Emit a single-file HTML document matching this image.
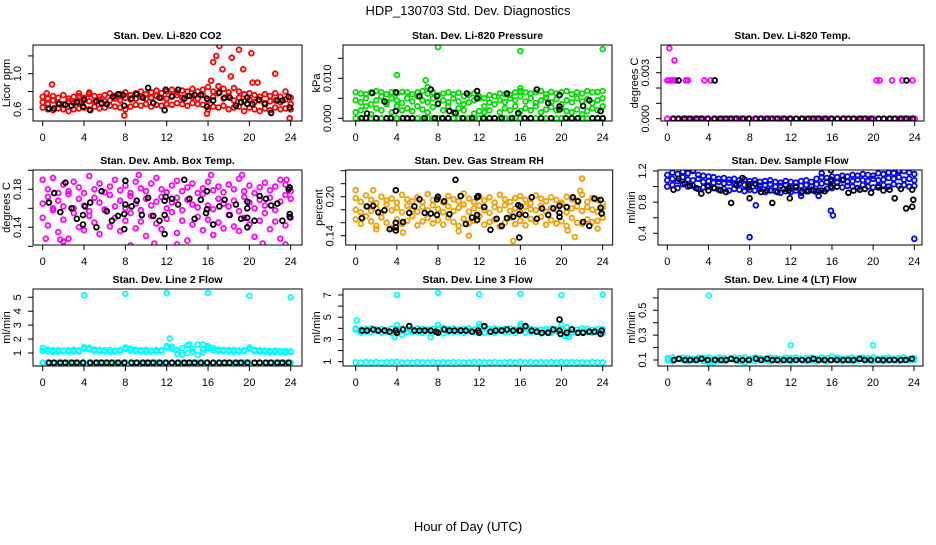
<!DOCTYPE html>
<html><head><meta charset="utf-8"><style>
body{margin:0;background:#fff;width:936px;height:540px;overflow:hidden}
svg text{font-family:"Liberation Sans",sans-serif}
</style></head><body>
<svg id="chart" width="936" height="540" viewBox="0 0 936 540" xmlns="http://www.w3.org/2000/svg">
<text x="468" y="15" font-size="13" text-anchor="middle">HDP_130703  Std. Dev. Diagnostics</text>
<text x="468" y="531" font-size="13" text-anchor="middle">Hour of Day (UTC)</text>
</svg>
<script>
const HOURS=[0,0.5,1,1.5,2,2.5,3,3.5,4,4.5,5,5.5,6,6.5,7,7.5,8,8.5,9,9.5,10,10.5,11,11.5,12,12.5,13,13.5,14,14.5,15,15.5,16,16.5,17,17.5,18,18.5,19,19.5,20,20.5,21,21.5,22,22.5,23,23.5,24];
const XTICKS=[0,4,8,12,16,20,24];
const BH=[0.6,1.1,1.7,2.2,2.8,3.3,3.9,4.6,5.2,5.7,6.2,6.7,7.3,7.9,8.6,9.1,9.7,10.2,10.7,11.3,11.9,12.5,13.1,13.7,14.2,14.7,15.3,15.9,16.5,17.1,17.6,18.1,18.7,19.2,19.8,20.5,21,21.6,22.1,22.7,23.2,23.8];

// Panel 1 CO2
const co2Lo=[0.62,0.60,0.59,0.61,0.60,0.58,0.60,0.61,0.62,0.60,0.63,0.61,0.62,0.64,0.63,0.62,0.60,0.63,0.65,0.64,0.66,0.63,0.65,0.64,0.66,0.65,0.67,0.66,0.64,0.67,0.66,0.65,0.60,0.63,0.62,0.64,0.60,0.62,0.63,0.58,0.62,0.60,0.58,0.61,0.59,0.62,0.60,0.61,0.60];
const co2Mid=[0.68,0.66,0.70,0.67,0.66,0.69,0.67,0.68,0.70,0.69,0.68,0.71,0.69,0.70,0.72,0.70,0.73,0.71,0.72,0.74,0.72,0.73,0.75,0.73,0.72,0.74,0.76,0.73,0.75,0.74,0.72,0.76,0.70,0.74,0.78,0.72,0.75,0.70,0.73,0.69,0.71,0.68,0.70,0.67,0.69,0.70,0.68,0.71,0.66];
const co2Hi=[0.74,0.72,0.75,0.73,0.76,0.72,0.74,0.75,0.73,0.77,0.75,0.74,0.76,0.78,0.75,0.77,0.79,0.76,0.78,0.80,0.77,0.79,0.81,0.78,0.80,0.82,0.79,0.81,0.80,0.83,0.80,0.82,0.85,0.80,0.86,0.83,0.79,0.84,0.80,0.77,0.78,0.76,0.74,0.77,0.75,0.78,0.74,0.80,0.73];
const co2OutH=[0.9,16.3,16.5,16.8,17.1,17.4,18.3,19,19.4,20.2,20.3,20.8,18.2,22.5,23.9,7.9,15.9,0.4,3.5,4.5];
const co2OutV=[0.88,0.92,1.13,1.20,1.31,1.05,1.18,1.27,1.05,1.23,0.90,0.90,0.97,1.00,0.50,0.53,0.55,0.78,0.78,0.79];
const co2BlkH=[0.6,1.1,1.6,2.2,2.8,3.3,3.9,4,4.6,5.2,5.7,6.2,6.8,7.3,7.8,7.9,8.6,9.1,9.7,10.2,10.7,11.3,11.8,11.9,12.5,13.1,13.7,14.2,14.7,15.3,15.9,15.9,16.5,17.1,17.6,18.1,18.7,19.2,19.8,19.8,20.3,20.9,21.5,22.1,22.7,23.2,23.8,23.9];
const co2BlkV=[0.61,0.61,0.66,0.65,0.64,0.68,0.63,0.71,0.59,0.69,0.67,0.66,0.74,0.77,0.76,0.64,0.72,0.77,0.73,0.84,0.67,0.73,0.59,0.82,0.75,0.82,0.72,0.75,0.76,0.76,0.72,0.63,0.70,0.79,0.73,0.73,0.64,0.68,0.73,0.66,0.66,0.71,0.66,0.56,0.70,0.70,0.74,0.62];

// Panel 2 Pressure
const prG0=[0,0,0,0,0,0,0,0,0,0,0,0,0,0,0,0,0,0,0,0,0,0,0,0,0,0,0,0,0,0,0,0,0,0,0,0,0,0,0,0,0,0,0,0,0,0,0,0,0];
const prG1=[0.0015,0.002,0.003,0.001,0.0025,0.002,0.0035,0.0015,0.003,0.002,0.0025,0.0018,0.003,0.0022,0.0015,0.0028,0,0.002,0.003,0.0015,0.0025,0.002,0,0.0012,0.0018,0.0015,0.002,0,0.0015,0.0025,0.002,0.003,0.0018,0.0025,0.002,0.003,0.0015,0.0022,0.0028,0.002,0.0025,0.0018,0.0015,0.0022,0.001,0.0018,0.0025,0.002,0.003];
const prG2=[0.0045,0.004,0.005,0.0035,0.0045,0.0055,0.004,0.005,0.0045,0.0038,0.005,0.0042,0.0055,0.0045,0.004,0.005,0.0035,0.0045,0.004,0.005,0.0042,0.0035,0.004,0.0045,0.005,0.003,0.004,0.0035,0.0045,0.004,0.005,0.0045,0.0055,0.0042,0.005,0.0038,0.0045,0.0052,0.004,0.0048,0.0035,0.0045,0.004,0.005,0.0042,0.0048,0.0038,0.0045,0.005];
const prG3=[0.0065,0.0062,0.006,0.0065,0.0068,0.0065,0.006,0.0065,0.0062,0.0066,0.0065,0.006,0.0065,0.0068,0.0062,0.0065,0.0058,0.0062,0.0065,0.006,0.0064,0.0055,0.0058,0.0062,0.0055,0.005,0.0058,0.0055,0.0062,0.006,0.0058,0.0065,0.0068,0.0065,0.0062,0.0065,0.0068,0.006,0.0066,0.0062,0.0065,0.0068,0.006,0.0065,0.0062,0.0068,0.0065,0.0066,0.0068];
const prOutH=[4,6.8,8,16,24,7,16];
const prOutV=[0.0108,0.0095,0.0178,0.0168,0.0173,0.0078,0.0075];
const prBlkH=[0.6,1.1,1.6,2.8,3.9,3.9,6.2,7.3,7.9,8,9.1,9.7,10.8,11.8,11.8,14.7,15.8,17.6,18.7,19.8,19.8,19.8,22.1,22.7,23.8,1,2,3,3.4,4.6,5,5.5,6.7,7.7,8.4,9,10.4,11.3,12.4,13,13.5,14.2,15.2,16.4,17,18,19,20.4,21,21.6,23,23.5,24];
const prBlkV=[0,0.0012,0.0063,0.0042,0.0065,0.0018,0.0055,0.0072,0.0055,0.0037,0.0018,0.0013,0.0062,0.0068,0.005,0.0062,0.0013,0.0072,0.0038,0.0022,0.003,0.0058,0.0031,0.0045,0.0018,0,0,0,0,0,0,0,0,0,0,0,0,0,0,0,0,0,0,0,0,0,0,0,0,0,0,0,0];

// Panel 3 Li-820 Temp
const tpZero=[0,0,0,0,0,0,0,0,0,0,0,0,0,0,0,0,0,0,0,0,0,0,0,0,0,0,0,0,0,0,0,0,0,0,0,0,0,0,0,0,0,0,0,0,0,0,0,0,0];
const tpHiH=[0,0.2,0.4,0.6,0.8,1.8,2.0,3.6,4.2,4.6,20.3,20.6,21.8,22.8,23.8,0.2,0.7];
const tpHiV=[0.0025,0.0025,0.0025,0.0025,0.0025,0.0025,0.0025,0.0025,0.0025,0.0025,0.0025,0.0025,0.0025,0.0025,0.0025,0.0046,0.0038];
const tpBlkH=[0.6,1.1,1.7,2.2,2.8,3.3,3.9,4.6,5.2,5.7,6.2,6.7,7.3,7.9,8.6,9.1,9.7,10.2,10.7,11.3,11.9,12.5,13.1,13.7,14.2,14.7,15.3,15.9,16.5,17.1,17.6,18.1,18.7,19.2,19.8,20.5,21,21.6,22.1,22.7,23.2,23.8,1.1,4.6,23.2];
const tpBlkV=[0,0,0,0,0,0,0,0,0,0,0,0,0,0,0,0,0,0,0,0,0,0,0,0,0,0,0,0,0,0,0,0,0,0,0,0,0,0,0,0,0,0,0.0025,0.0025,0.0025];

// Panel 4 Amb Box Temp
const abA=[0.150,0.142,0.160,0.135,0.148,0.128,0.155,0.140,0.137,0.152,0.145,0.133,0.158,0.141,0.150,0.136,0.147,0.155,0.139,0.146,0.131,0.152,0.144,0.138,0.149,0.156,0.134,0.147,0.126,0.143,0.151,0.137,0.148,0.132,0.145,0.139,0.153,0.141,0.136,0.150,0.143,0.130,0.147,0.155,0.138,0.146,0.128,0.142,0.150];
const abB=[0.165,0.172,0.158,0.168,0.162,0.175,0.160,0.170,0.163,0.157,0.171,0.166,0.159,0.174,0.162,0.168,0.160,0.173,0.165,0.158,0.170,0.163,0.167,0.172,0.160,0.166,0.171,0.158,0.169,0.164,0.161,0.175,0.163,0.159,0.170,0.165,0.162,0.168,0.157,0.172,0.166,0.160,0.169,0.163,0.171,0.158,0.167,0.174,0.170];
const abC=[0.190,0.180,0.192,0.176,0.185,0.178,0.188,0.182,0.176,0.194,0.180,0.186,0.177,0.183,0.190,0.179,0.184,0.176,0.188,0.181,0.178,0.186,0.192,0.180,0.177,0.184,0.189,0.178,0.182,0.186,0.176,0.181,0.188,0.179,0.183,0.177,0.185,0.180,0.191,0.178,0.184,0.176,0.182,0.187,0.179,0.183,0.190,0.185,0.178];
const abOutH=[2,2.8,9.3,10.8,13,16.3,19.3,21.3,23.5,0.3,8.5,1.7,23.6];
const abOutV=[0.125,0.205,0.195,0.123,0.122,0.195,0.195,0.123,0.122,0.128,0.121,0.127,0.190];
const abBlkH=[0.6,1.1,1.7,2.2,2.8,3.3,3.9,3.9,4.1,4.6,5.2,5.7,6.2,6.7,7.3,7.9,7.9,8,8,8.6,9.1,9.6,10.2,10.7,11.3,11.8,11.8,11.9,11.8,12.5,13.1,13.7,14.2,14.7,15.3,15.9,15.9,15.8,16.5,17.1,17.6,18.1,18.7,19.2,19.8,19.8,19.8,19.8,20.5,21,21.6,22.1,22.7,23.2,23.8,23.9,23.9,23.9];
const abBlkV=[0.166,0.176,0.156,0.187,0.160,0.149,0.153,0.143,0.162,0.166,0.140,0.178,0.157,0.147,0.152,0.138,0.154,0.164,0.189,0.162,0.168,0.153,0.171,0.152,0.147,0.133,0.168,0.172,0.153,0.170,0.164,0.190,0.170,0.149,0.169,0.159,0.178,0.155,0.143,0.162,0.169,0.153,0.164,0.149,0.150,0.160,0.167,0.140,0.147,0.173,0.170,0.163,0.165,0.147,0.180,0.154,0.151,0.182];

// Panel 5 Gas Stream RH
const rhA=[0.165,0.158,0.170,0.162,0.155,0.168,0.160,0.152,0.165,0.158,0.163,0.170,0.156,0.162,0.167,0.159,0.164,0.157,0.168,0.161,0.155,0.166,0.159,0.163,0.170,0.157,0.161,0.165,0.154,0.160,0.168,0.158,0.163,0.156,0.166,0.161,0.169,0.157,0.164,0.159,0.162,0.155,0.167,0.160,0.158,0.165,0.161,0.163,0.168];
const rhB=[0.180,0.176,0.185,0.178,0.182,0.175,0.188,0.179,0.183,0.176,0.186,0.180,0.177,0.184,0.179,0.187,0.181,0.176,0.185,0.178,0.183,0.188,0.177,0.182,0.186,0.179,0.175,0.184,0.180,0.187,0.178,0.182,0.176,0.185,0.181,0.179,0.186,0.177,0.183,0.180,0.188,0.176,0.182,0.185,0.178,0.184,0.180,0.177,0.183];
const rhC=[0.198,0.192,0.202,0.195,0.190,0.200,0.194,0.197,0.191,0.203,0.196,0.193,0.199,0.192,0.204,0.195,0.198,0.191,0.201,0.196,0.193,0.205,0.197,0.192,0.200,0.194,0.199,0.191,0.203,0.196,0.192,0.198,0.201,0.195,0.190,0.202,0.197,0.193,0.199,0.195,0.191,0.200,0.196,0.194,0.203,0.192,0.198,0.195,0.190];
const rhOutH=[0,1.7,4.6,15.3,20.6,21.3,21.8,22,23.5,10,11,2];
const rhOutV=[0.21,0.21,0.145,0.132,0.148,0.138,0.209,0.228,0.151,0.147,0.14,0.15];
const rhBlkH=[0.6,1.1,1.7,2.2,2.8,3.3,3.9,3.9,3.9,3.9,4.6,5.2,5.7,6.2,6.7,7.3,7.9,7.9,8,8.6,9.1,9.7,10.2,10.7,11.3,11.8,11.8,11.8,11.9,12.5,13.1,13.7,14.2,14.7,15.3,15.9,15.9,15.8,16,16.5,17.1,17.6,18.1,18.7,19.2,19.8,19.8,19.8,20.5,21.1,21.6,22.1,22.7,23.2,23.8,23.8,23.9];
const rhBlkV=[0.167,0.185,0.186,0.176,0.179,0.150,0.153,0.148,0.160,0.21,0.161,0.175,0.185,0.196,0.175,0.174,0.172,0.196,0.200,0.193,0.173,0.226,0.201,0.158,0.168,0.164,0.172,0.199,0.201,0.184,0.149,0.166,0.155,0.167,0.169,0.137,0.173,0.187,0.185,0.172,0.199,0.166,0.182,0.172,0.182,0.175,0.169,0.186,0.184,0.199,0.193,0.161,0.155,0.197,0.195,0.183,0.174];

// Panel 6 Sample Flow
const sfA=[1.00,1.02,0.98,1.03,1.00,1.01,0.97,0.99,1.00,0.98,0.96,0.97,0.95,0.97,0.96,0.94,0.96,0.95,0.97,0.93,0.95,0.94,0.92,0.94,0.93,0.95,0.92,0.94,0.96,0.93,0.95,0.97,0.98,1.00,0.99,1.01,1.00,0.98,1.02,1.00,0.99,1.01,1.02,1.00,1.03,1.01,1.02,1.00,1.01];
const sfB=[1.08,1.10,1.07,1.12,1.09,1.08,1.10,1.06,1.07,1.05,1.06,1.04,1.05,1.03,1.04,1.02,1.03,1.04,1.01,1.02,1.03,1.00,1.01,1.02,0.99,1.00,1.01,1.02,1.00,1.03,1.04,1.06,1.07,1.05,1.08,1.06,1.07,1.09,1.08,1.07,1.10,1.08,1.09,1.11,1.10,1.12,1.09,1.10,1.08];
const sfC=[1.15,1.18,1.16,1.19,1.17,1.20,1.15,1.14,1.13,1.12,1.10,1.11,1.09,1.10,1.08,1.09,1.07,1.08,1.06,1.07,1.08,1.06,1.05,1.07,1.06,1.05,1.07,1.08,1.06,1.10,1.12,1.11,1.13,1.12,1.14,1.13,1.15,1.14,1.16,1.15,1.14,1.17,1.16,1.18,1.17,1.19,1.20,1.18,1.16];
const sfOutH=[8,24,15.9,16.1,8.6,1.5,2.5,15,22.5,13,14.7];
const sfOutV=[0.35,0.33,0.69,0.63,0.76,1.19,1.21,1.17,1.21,0.88,0.88];
const sfBlkH=[0.6,1.1,1.7,2.2,2.8,3.3,3.9,4,4.6,5.2,5.7,6.2,6.7,7.3,7.9,7.9,8,8.6,9.1,9.7,10.2,10.7,11.3,11.8,11.8,11.9,12.5,13.1,13.7,14.2,14.7,15.3,15.9,15.9,15.9,16.5,17.1,17.6,18.1,18.7,19.2,19.8,20.5,21,21.6,22.1,22.7,23.2,23.8,23.8,23.9];
const sfBlkV=[0.96,1.10,1.04,1.01,0.98,0.91,1.01,0.95,0.98,0.95,0.93,0.79,1.02,1.11,0.99,1.02,0.85,1.03,0.93,0.95,0.79,0.93,0.97,0.98,0.95,0.85,0.99,0.94,0.94,0.95,0.95,0.94,1.00,1.09,1.21,1.00,1.09,0.92,0.95,0.96,0.97,0.92,0.99,0.95,0.96,0.85,0.97,0.72,0.96,0.74,0.83];

// Panel 7 Line 2 Flow
const l2A=[1.15,1.10,1.08,1.10,1.12,1.09,1.10,1.11,1.30,1.25,1.15,1.12,1.10,1.08,1.10,1.12,1.28,1.18,1.12,1.10,1.09,1.11,1.10,1.12,1.38,1.30,0.95,0.90,1.00,1.10,0.85,1.05,1.30,1.20,1.15,1.12,1.10,1.08,1.10,1.12,1.28,1.12,1.10,1.08,1.05,1.07,1.06,1.04,1.05];
const l2B=[1.35,1.25,1.20,1.22,1.18,1.20,1.22,1.19,1.42,1.38,1.25,1.22,1.20,1.22,1.19,1.21,1.40,1.32,1.24,1.20,1.22,1.18,1.21,1.20,1.50,1.45,1.20,1.35,1.55,1.30,1.60,1.25,1.40,1.35,1.25,1.22,1.20,1.22,1.19,1.21,1.40,1.24,1.20,1.18,1.15,1.18,1.14,1.15,1.12];
const l2Low=[0.3,0.3,0.3,0.3,0.3,0.3,0.3,0.3,0.3,0.3,0.3,0.3,0.3,0.3,0.3,0.3,0.3,0.3,0.3,0.3,0.3,0.3,0.3,0.3,0.3,0.3,0.3,0.3,0.3,0.3,0.3,0.3,0.3,0.3,0.3,0.3,0.3,0.3,0.3,0.3,0.3,0.3,0.3,0.3,0.3,0.3,0.3,0.3,0.3];
const l2OutH=[4,8,12,16,20,24,12.3,14.2,15.5,16];
const l2OutV=[5.15,5.25,5.3,5.3,5.1,5.0,2.05,1.6,1.62,1.5];
const l2BlkV=[0.3,0.3,0.3,0.3,0.3,0.3,0.3,0.3,0.3,0.3,0.3,0.3,0.3,0.3,0.3,0.3,0.3,0.3,0.3,0.3,0.3,0.3,0.3,0.3,0.3,0.3,0.3,0.3,0.3,0.3,0.3,0.3,0.3,0.3,0.3,0.3,0.3,0.3,0.3,0.3,0.3,0.3];

// Panel 8 Line 3 Flow
const l3A=[3.90,3.60,3.70,3.65,3.75,3.60,3.70,3.55,3.90,3.40,3.70,3.65,3.70,3.60,3.75,3.65,4.00,3.55,3.70,3.65,3.70,3.60,3.75,3.65,4.10,3.60,3.70,3.60,3.75,3.65,3.70,3.60,4.20,3.60,3.70,3.65,3.55,3.70,3.60,3.75,4.00,3.40,3.65,3.60,3.70,3.65,3.60,3.70,3.60];
const l3B=[4.00,3.90,3.95,4.00,3.90,3.95,3.85,4.00,4.30,4.00,3.95,3.90,4.00,3.95,3.90,3.95,4.30,4.05,3.95,4.00,3.90,3.95,4.00,3.90,4.40,4.10,3.95,4.00,3.90,3.95,4.00,3.90,4.40,4.05,3.95,3.90,3.90,3.95,4.00,3.90,4.30,4.10,3.95,3.90,4.00,3.95,3.90,3.95,3.95];
const l3Low=[0.95,0.92,0.96,0.94,0.97,0.93,0.95,0.96,1.00,0.94,0.95,0.93,0.96,0.95,0.94,0.96,0.92,0.95,0.94,0.96,0.95,0.93,0.94,0.96,0.97,0.95,0.94,0.96,0.93,0.95,0.96,0.94,1.00,0.95,0.97,0.94,0.96,0.95,0.97,0.94,0.98,0.95,0.96,0.94,0.95,0.93,0.96,0.95,0.94];
const l3OutH=[4,8,12,16,20,24,0.1,3.8,7.3,20.3,20.7];
const l3OutV=[7.0,7.2,7.05,7.1,7.0,7.05,4.7,3.2,3.2,3.3,3.2];
const l3BlkH=[0.6,1.1,1.7,2.2,2.8,3.3,3.9,4,4.6,5.2,5.7,6.2,6.7,7.3,7.8,8,8.6,9.1,9.6,10.2,10.7,11.3,11.9,12,12.5,13.1,13.6,14.2,14.7,15.3,15.9,16,16.5,17.1,17.6,18.1,18.7,19.2,19.8,19.8,19.9,20.5,21.0,21.6,22.1,22.7,23.2,23.8,23.9];
const l3BlkV=[3.8,3.8,3.9,3.8,3.8,3.7,3.8,3.6,3.9,4.2,3.8,3.8,3.8,3.8,3.7,3.6,3.9,3.8,3.8,3.8,3.8,3.7,3.8,3.6,4.2,3.7,3.8,3.8,3.9,3.8,3.8,3.8,4.2,3.8,3.7,3.6,3.6,3.9,4.8,3.8,3.5,3.6,3.9,3.6,3.6,3.7,3.7,3.5,3.8];

// Panel 9 Line 4 Flow
const l4A=[0.10,0.09,0.11,0.10,0.09,0.10,0.11,0.09,0.10,0.08,0.10,0.09,0.11,0.10,0.09,0.08,0.10,0.09,0.11,0.10,0.09,0.10,0.09,0.10,0.09,0.10,0.11,0.09,0.10,0.09,0.10,0.09,0.10,0.11,0.09,0.10,0.09,0.10,0.11,0.10,0.09,0.10,0.09,0.10,0.11,0.09,0.10,0.10,0.10];
const l4B=[0.115,0.12,0.11,0.12,0.115,0.11,0.12,0.115,0.12,0.11,0.12,0.115,0.11,0.12,0.115,0.12,0.11,0.12,0.115,0.11,0.12,0.115,0.11,0.12,0.115,0.12,0.11,0.115,0.12,0.11,0.12,0.115,0.13,0.12,0.11,0.115,0.12,0.11,0.12,0.115,0.12,0.11,0.115,0.12,0.11,0.115,0.12,0.11,0.115];
const l4OutH=[4,12,20,4];
const l4OutV=[0.62,0.22,0.22,0.08];
const l4BlkV=[0.10,0.11,0.10,0.10,0.10,0.11,0.10,0.10,0.10,0.10,0.11,0.10,0.10,0.10,0.11,0.10,0.11,0.10,0.10,0.10,0.10,0.10,0.10,0.10,0.11,0.10,0.10,0.10,0.10,0.10,0.10,0.10,0.11,0.10,0.10,0.10,0.10,0.10,0.10,0.10,0.10,0.11];

const panels=[
 {name:'co2',title:'Stan. Dev. Li-820 CO2',ylab:'Licor ppm',L:33,R:302,T:45,B:121,x0:42.7,x24:290.7,ya:[0.6,109.3],yb:[1.0,73.7],ticks:[0.6,0.8,1.0,1.2],labels:[0.6,1.0],fmt:1,
  series:[[HOURS,co2Lo,'#ff0000'],[HOURS,co2Mid,'#ff0000'],[HOURS,co2Hi,'#ff0000'],[co2OutH,co2OutV,'#ff0000'],[co2BlkH,co2BlkV,'#000']]},
 {name:'pressure',title:'Stan. Dev. Li-820 Pressure',ylab:'kPa',L:343,R:612,T:45,B:121,x0:355.7,x24:602.7,ya:[0,118.3],yb:[0.010,78.3],ticks:[0,0.005,0.010,0.015],labels:[0,0.010],fmt:3,
  series:[[HOURS,prG0,'#00dd00'],[HOURS,prG1,'#00dd00'],[HOURS,prG2,'#00dd00'],[HOURS,prG3,'#00dd00'],[prOutH,prOutV,'#00dd00'],[prBlkH,prBlkV,'#000']]},
 {name:'li820-temp',title:'Stan. Dev. Li-820 Temp.',ylab:'degrees C',L:661,R:924,T:45,B:121,x0:667.3,x24:914.7,ya:[0,118.7],yb:[0.003,72.7],ticks:[0,0.001,0.002,0.003,0.004],labels:[0,0.003],fmt:3,
  series:[[HOURS,tpZero,'#ff00ff'],[tpHiH,tpHiV,'#ff00ff'],[tpBlkH,tpBlkV,'#000']]},
 {name:'amb-box-temp',title:'Stan. Dev. Amb. Box Temp.',ylab:'degrees C',L:33,R:302,T:170,B:245,x0:42.7,x24:290.7,ya:[0.14,227.3],yb:[0.18,189.3],ticks:[0.12,0.14,0.16,0.18,0.20],labels:[0.14,0.18],fmt:2,
  series:[[HOURS,abA,'#ff00ff'],[HOURS,abB,'#ff00ff'],[HOURS,abC,'#ff00ff'],[abOutH,abOutV,'#ff00ff'],[abBlkH,abBlkV,'#000']]},
 {name:'gas-stream-rh',title:'Stan. Dev. Gas Stream RH',ylab:'percent',L:345.7,R:612.7,T:170,B:245,x0:355.7,x24:602.7,ya:[0.14,235.7],yb:[0.20,196.7],ticks:[0.14,0.16,0.18,0.20,0.22,0.24],labels:[0.14,0.20],fmt:2,
  series:[[HOURS,rhA,'#f0a000'],[HOURS,rhB,'#f0a000'],[HOURS,rhC,'#f0a000'],[rhOutH,rhOutV,'#f0a000'],[rhBlkH,rhBlkV,'#000']]},
 {name:'sample-flow',title:'Stan. Dev. Sample Flow',ylab:'ml/min',L:658,R:922,T:170,B:245,x0:667.3,x24:914.3,ya:[0.4,233.3],yb:[1.2,171],ticks:[0.4,0.6,0.8,1.0,1.2],labels:[0.4,0.8,1.2],fmt:1,
  series:[[HOURS,sfA,'#0000ff'],[HOURS,sfB,'#0000ff'],[HOURS,sfC,'#0000ff'],[sfOutH,sfOutV,'#0000ff'],[sfBlkH,sfBlkV,'#000']]},
 {name:'line2-flow',title:'Stan. Dev. Line 2 Flow',ylab:'ml/min',L:33,R:302,T:289,B:366,x0:42.7,x24:290.7,ya:[1,353],yb:[5,297.3],ticks:[1,2,3,4,5],labels:[1,2,3,4,5],fmt:0,
  series:[[HOURS,l2Low,'#00ffff'],[HOURS,l2A,'#00ffff'],[HOURS,l2B,'#00ffff'],[l2OutH,l2OutV,'#00ffff'],[BH,l2BlkV,'#000']]},
 {name:'line3-flow',title:'Stan. Dev. Line 3 Flow',ylab:'ml/min',L:343,R:612,T:289,B:366,x0:355.7,x24:602.7,ya:[1,361.7],yb:[7,295],ticks:[1,2,3,4,5,6,7],labels:[1,3,5,7],fmt:0,
  series:[[HOURS,l3Low,'#00ffff'],[HOURS,l3A,'#00ffff'],[HOURS,l3B,'#00ffff'],[l3OutH,l3OutV,'#00ffff'],[l3BlkH,l3BlkV,'#000']]},
 {name:'line4-flow',title:'Stan. Dev. Line 4 (LT) Flow',ylab:'ml/min',L:658,R:923,T:289,B:366,x0:667.7,x24:914,ya:[0.1,360],yb:[0.5,310.3],ticks:[0.1,0.2,0.3,0.4,0.5,0.6],labels:[0.1,0.3,0.5],fmt:1,
  series:[[HOURS,l4A,'#00ffff'],[HOURS,l4B,'#00ffff'],[l4OutH,l4OutV,'#00ffff'],[BH,l4BlkV,'#000']]}
];

const svg=document.getElementById('chart');
const NS='http://www.w3.org/2000/svg';
function mk(tag,attrs,parent){const e=document.createElementNS(NS,tag);for(const k in attrs)e.setAttribute(k,attrs[k]);parent.appendChild(e);return e;}

panels.forEach(p=>{
  const g=mk('g',{},svg);
  
  
  const xs=h=>p.x0+h*(p.x24-p.x0)/24;
  const k=(p.yb[1]-p.ya[1])/(p.yb[0]-p.ya[0]);
  const ys=v=>p.ya[1]+(v-p.ya[0])*k;
  const cid='clip-'+p.name;
  const cp=mk('clipPath',{id:cid},g);
  mk('rect',{x:p.L,y:p.T,width:p.R-p.L,height:p.B-p.T},cp);
  const pts=mk('g',{'clip-path':'url(#'+cid+')',fill:'none','stroke-width':1.8},g);
  
  
  p.series.forEach(s=>{
    const hs=s[0],vs=s[1];
    for(let i=0;i<vs.length;i++){
      if(vs[i]==null)continue;
      const c=mk('circle',{cx:xs(hs[i]).toFixed(1),cy:ys(vs[i]).toFixed(1),r:2.4,stroke:s[2]},pts);
      
      
    }
  });
  const box=mk('rect',{x:p.L,y:p.T,width:p.R-p.L,height:p.B-p.T,fill:'none',stroke:'#000','stroke-width':1},g);
  
  
  const t=mk('text',{x:(p.L+p.R)/2,y:p.T-6,'font-size':10.5,'font-weight':'bold','text-anchor':'middle'},g);
  t.textContent=p.title;
  
  
  mk('line',{x1:xs(0),x2:xs(24),y1:p.B,y2:p.B,stroke:'#000'},g);
  XTICKS.forEach(h=>{
    mk('line',{x1:xs(h),x2:xs(h),y1:p.B,y2:p.B+5,stroke:'#000'},g);
    const tl=mk('text',{x:xs(h),y:p.B+20,'font-size':11,'text-anchor':'middle'},g);
    tl.textContent=h;
    
    
  });
  p.ticks.forEach(v=>{
    mk('line',{x1:p.L-5,x2:p.L,y1:ys(v),y2:ys(v),stroke:'#000'},g);
  });
  p.labels.forEach(v=>{
    const yy=ys(v), tx=p.L-12;
    const tl=mk('text',{x:tx,y:yy,'font-size':11,'text-anchor':'middle',transform:'rotate(-90 '+tx+' '+yy+')'},g);
    tl.textContent=v.toFixed(p.fmt);
    
    
  });
  const cy=(p.T+p.B)/2, lx=p.L-23;
  const yl=mk('text',{x:lx,y:cy,'font-size':11,'text-anchor':'middle',transform:'rotate(-90 '+lx+' '+cy+')'},g);
  yl.textContent=p.ylab;
  
  
});
</script>
</body></html>
